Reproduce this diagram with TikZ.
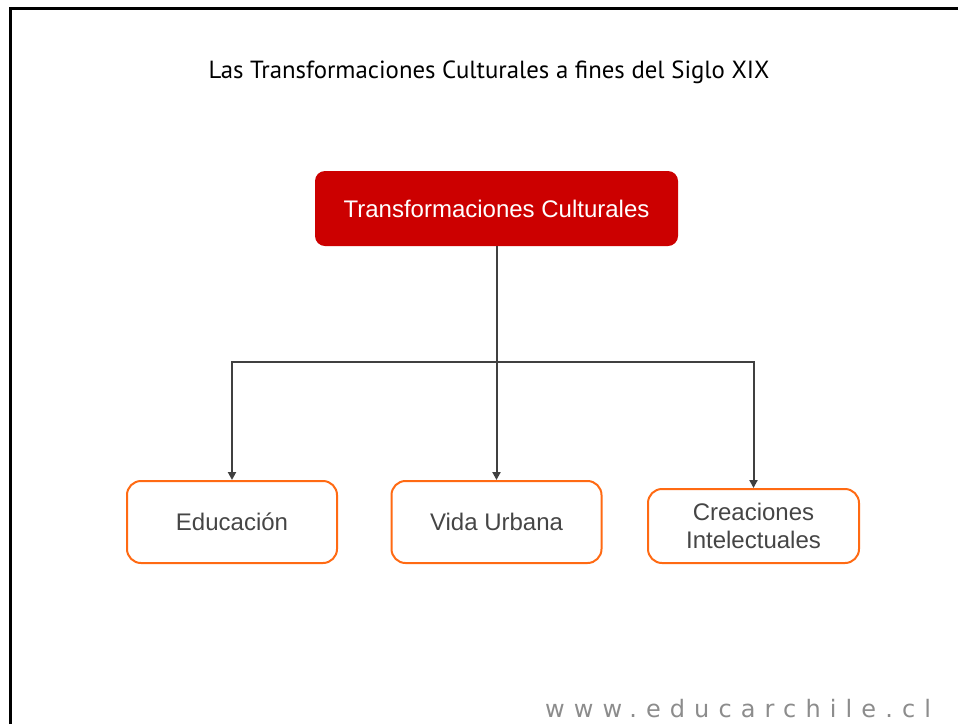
\documentclass[tikz,border=0pt]{standalone}
\usepackage{fontspec}
\setmainfont{Liberation Sans}
\newfontfamily\titlefont{PT Sans}
\newfontfamily\webfont[LetterSpace=38]{DejaVu Sans}
\usetikzlibrary{arrows.meta}
\definecolor{boxred}{HTML}{CC0000}
\definecolor{boxorange}{HTML}{FF6A13}
\definecolor{linkgray}{HTML}{404040}
\definecolor{textgray}{HTML}{454545}
\definecolor{webgray}{HTML}{8C8C8C}

\begin{document}
\begin{tikzpicture}[x=1pt,y=-1pt,
    topic/.style={fill=boxred,rounded corners=10pt,minimum width=363pt,minimum height=75pt,text=white,font=\fontsize{24}{28}\selectfont},
    sub/.style={draw=boxorange,line width=2pt,rounded corners=14pt,minimum width=210pt,minimum height=82pt,text=textgray,align=center,font=\fontsize{24}{28}\selectfont},
    link/.style={linkgray,line width=2pt,-{Triangle[length=8pt,width=8pt]}}]
      \useasboundingbox (0,0) rectangle (958,724);

      \draw[black,line width=3pt] (10.5,724) |- (958,8.5);

      \path (489,78) node[anchor=base,font=\titlefont\fontsize{24.8}{28}\selectfont] (title) {Las Transformaciones Culturales a fines del Siglo XIX};

      \path (496.5,208.5) node[topic] (cult) {Transformaciones Culturales};

      \path (232,522) node[sub] (edu) {Educación};
      \path (496.5,522) node[sub] (urb) {Vida Urbana};
      \path (753.5,526) node[sub,minimum width=211pt,minimum height=74pt] (intel) {Creaciones\\Intelectuales};

      \coordinate (split) at (496.5,362);
      \draw[link,-] (cult.south) -- (split);
      \draw[link] (split) -| (edu.north);
      \draw[link] (split) -- (urb.north);
      \draw[link] (split) -| (intel.north);

      \path (545,717) node[anchor=base west,inner sep=0pt,text=webgray,font=\webfont\fontsize{24}{28}\selectfont] (web) {www.educarchile.cl};
\end{tikzpicture}
\end{document}
